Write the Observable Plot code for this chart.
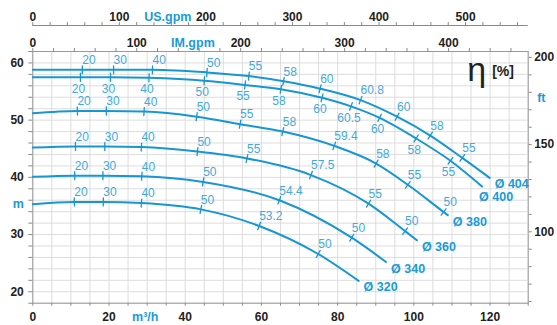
<!DOCTYPE html>
<html><head><meta charset="utf-8">
<script src="https://cdn.jsdelivr.net/npm/d3@7"></script>
<script src="https://cdn.jsdelivr.net/npm/@observablehq/plot@0.6"></script>
<style>
html,body{margin:0;padding:0;background:#fff;}
svg{display:block;}
</style>
</head><body><div id="chart"></div>
<script>
// Each row: [flow (m³/h), head (m), efficiency % or null (no marker)]
const curve320 = [[0,35.3,null],[10.9,35.7,20],[18.5,35.7,30],[28.5,35.5,40],[44.1,34.4,50],[59.4,31.5,53.2],[74.9,26.6,50],[85.5,21.9,null]];
const curve340 = [[0,40.1,null],[11.0,40.3,20],[18.4,40.3,30],[28.6,40.2,40],[44.7,39.2,50],[64.7,36.0,54.4],[83.7,29.45,50],[92.7,25.2,null]];
const curve360 = [[0,45.2,null],[11.2,45.4,20],[18.9,45.4,30],[28.5,45.3,40],[43.2,44.5,50],[56.2,43.3,55],[73.0,40.4,57.5],[88.1,35.4,55],[97.7,30.6,50],[100.8,29.0,null]];
const curve380 = [[0,51.2,null],[11.7,51.6,20],[19.3,51.6,30],[29.2,51.5,40],[43.0,50.6,50],[54.4,49.3,55],[65.6,48.0,58],[79.1,45.5,59.4],[90.1,42.4,58],[98.4,38.7,55],[107.8,33.95,50],[108.9,33.4,null]];
const curve400 = [[0,57.5,null],[12.5,57.5,20],[20.4,57.5,30],[30.5,57.4,40],[45.0,56.9,50],[55.7,56.15,55],[65.1,55.4,58],[75.9,53.9,60],[83.5,52.4,60.5],[91.0,50.4,60],[100.6,46.8,58],[109.6,42.9,55],[117.9,38.4,null]];
const curve404 = [[0,58.8,null],[13.0,58.8,20],[21.2,58.8,30],[31.4,58.8,40],[45.7,58.35,50],[56.7,57.7,55],[65.8,56.8,58],[75.4,55.5,60],[86.0,53.5,60.8],[95.6,50.6,60],[104.3,47.3,58],[112.7,43.4,55],[119.9,39.9,null]];
const diameters = ["Ø 320","Ø 340","Ø 360","Ø 380","Ø 400","Ø 404"];
const curves = [curve320, curve340, curve360, curve380, curve400, curve404];

const flowTicks = [0, 20, 40, 60, 80, 100, 120];
const headTicks = [20, 30, 40, 50, 60];
const ftTicks = [100, 150, 200];
const usGpmTicks = [0, 100, 200, 300, 400, 500];
const imGpmTicks = [0, 100, 200, 300, 400];

const US_GPM_PER_M3H = 4.4029;
const IM_GPM_PER_M3H = 3.6662;
const M_PER_FT = 0.3048;

const W = 557, H = 325;
const mL = 32.3, mR = 29.3, mT = 51, mB = 22.3;
const xDom = [0, 130], yDom = [18, 62];
const kx = (W - mL - mR) / (xDom[1] - xDom[0]);
const ky = (H - mT - mB) / (yDom[1] - yDom[0]);

const BLUE = "#1796d4";
const LBLUE = "#3faade";
const LABEL_BLUE = "#1a9ad8";
const TXT = "#222";
const AXIS = "#8a8a8a";
const FONT = "'Liberation Sans', Arial, sans-serif";

// plain line shape for vector marks (no arrowhead)
const stick = {draw(ctx, l) { ctx.moveTo(0, 0); ctx.lineTo(0, -l); }};

// table
const rows = [];
curves.forEach((c, ci) => {
  c.forEach((p, i) => {
    const prev = c[Math.max(0, i - 1)], next = c[Math.min(c.length - 1, i + 1)];
    const dxp = (next[0] - prev[0]) * kx, dyp = -(next[1] - prev[1]) * ky;
    rows.push({dia: diameters[ci], flow: p[0], head: p[1], eff: p[2], i, last: i === c.length - 1,
      rot: Math.atan2(dyp, dxp) * 180 / Math.PI});
  });
});
const effRows = rows.filter(d => d.eff != null);
const endRows = rows.filter(d => d.last);

const minorX = d3.range(0, 131, 5);
const minorY = d3.range(18, 63, 2);
const minorFt = d3.range(60, 201, 10);
const minorUS = d3.range(0, 561, 20);
const minorIM = d3.range(0, 471, 20);

const plot = Plot.plot({
  width: W, height: H,
  marginLeft: mL, marginRight: mR, marginTop: mT, marginBottom: mB,
  x: {domain: xDom},
  y: {domain: yDom},
  style: {fontFamily: FONT, background: "#fff", overflow: "visible"},
  marks: [
    Plot.gridX(minorX, {stroke: "#d9d9d9", strokeOpacity: 1, strokeWidth: 0.9}),
    Plot.gridY(minorY, {stroke: "#d9d9d9", strokeOpacity: 1, strokeWidth: 0.9}),
    Plot.frame({stroke: "#9a9a9a", strokeWidth: 1}),
    // bottom axis
    Plot.axisX(minorX, {anchor: "bottom", tickSize: 3, tickPadding: 6, stroke: AXIS,
      tickFormat: d => flowTicks.includes(d) ? String(d) : "", fontSize: 12, fontWeight: "bold", fill: TXT, label: null}),
    // left axis
    Plot.axisY(minorY, {anchor: "left", tickSize: 4, tickPadding: 5, stroke: AXIS,
      tickFormat: d => headTicks.includes(d) ? String(d) : "", fontSize: 12, fontWeight: "bold", fill: TXT, label: null}),
    // right axis in ft
    Plot.axisY(minorFt.map(f => f * M_PER_FT), {anchor: "right", tickSize: 3, tickPadding: 3, stroke: AXIS,
      tickFormat: m => { const f = Math.round(m / M_PER_FT); return ftTicks.includes(f) ? String(f) : ""; },
      fontSize: 12, fontWeight: "bold", fill: TXT, label: null}),
    // top IM.gpm axis
    Plot.axisX(minorIM.map(v => v / IM_GPM_PER_M3H), {anchor: "top", tickSize: 4, tickPadding: 1, stroke: AXIS,
      tickFormat: m => { const v = Math.round(m * IM_GPM_PER_M3H); return imGpmTicks.includes(v) ? String(v) : ""; },
      fontSize: 12, fontWeight: "bold", fill: TXT, label: null}),
    // top US.gpm axis (offset above)
    Plot.ruleY([yDom[1]], {dy: -26, stroke: AXIS, strokeWidth: 1}),
    Plot.vector(minorUS.map(v => v / US_GPM_PER_M3H), {x: d => d, frameAnchor: "top", dy: -26, length: 3, anchor: "start", shape: stick, stroke: AXIS, strokeWidth: 1}),
    Plot.text(usGpmTicks, {x: d => d / US_GPM_PER_M3H, text: d => String(d), frameAnchor: "top", dy: -31, lineAnchor: "bottom",
      fontSize: 12, fontWeight: "bold", fill: TXT}),
    // axis titles
    Plot.text(["US.gpm"], {x: 156 / US_GPM_PER_M3H, frameAnchor: "top", dy: -31, lineAnchor: "bottom", fontSize: 12.5, fontWeight: "bold", fill: LABEL_BLUE}),
    Plot.text(["IM.gpm"], {x: 154 / IM_GPM_PER_M3H, frameAnchor: "top", dy: -5, lineAnchor: "bottom", fontSize: 12.5, fontWeight: "bold", fill: LABEL_BLUE}),
    Plot.text(["m³/h"], {x: 29.5, frameAnchor: "bottom", dy: 18, lineAnchor: "bottom", fontSize: 12.5, fontWeight: "bold", fill: LABEL_BLUE}),
    Plot.text(["m"], {y: 35.4, frameAnchor: "left", dx: -9, textAnchor: "end", fontSize: 12.5, fontWeight: "bold", fill: LABEL_BLUE}),
    Plot.text(["ft"], {y: 177 * M_PER_FT, frameAnchor: "right", dx: 9, textAnchor: "start", fontSize: 12.5, fontWeight: "bold", fill: LABEL_BLUE}),
    // eta label
    Plot.text(["η"], {frameAnchor: "top-right", dx: -61, dy: 29, textAnchor: "start", lineAnchor: "bottom", fontSize: 34, fill: TXT}),
    Plot.text(["[%]"], {frameAnchor: "top-right", dx: -36, dy: 20, textAnchor: "start", lineAnchor: "middle", fontSize: 14, fontWeight: "bold", fill: TXT}),
    // curves
    Plot.line(rows, {x: "flow", y: "head", z: "dia", stroke: BLUE, strokeWidth: 2, curve: "monotone-x"}),
    Plot.vector(effRows, {x: "flow", y: "head", rotate: "rot", length: 8, anchor: "middle", shape: stick, stroke: BLUE, strokeWidth: 1.3}),
    Plot.text(effRows.filter(d => d.dia !== "Ø 400"), {x: "flow", y: "head", text: d => String(d.eff), textAnchor: "start", dx: 0, dy: -9.5,
      fontSize: 12, fill: LBLUE}),
    Plot.text(effRows.filter(d => d.dia === "Ø 400"), {x: "flow", y: "head", text: d => String(d.eff), textAnchor: "middle", dx: -2, dy: 11.5,
      fontSize: 12, fill: LBLUE}),
    Plot.text(endRows.filter(d => d.dia !== "Ø 400"), {x: "flow", y: "head", text: "dia", textAnchor: "start", dx: 5, dy: 6.5,
      fontSize: 12.5, fontWeight: "bold", fill: LABEL_BLUE}),
    Plot.text(endRows.filter(d => d.dia === "Ø 400"), {x: "flow", y: "head", text: "dia", textAnchor: "start", dx: -3, dy: 10,
      fontSize: 12.5, fontWeight: "bold", fill: LABEL_BLUE})
  ]
});
document.getElementById("chart").appendChild(plot);
</script>
</body></html>
